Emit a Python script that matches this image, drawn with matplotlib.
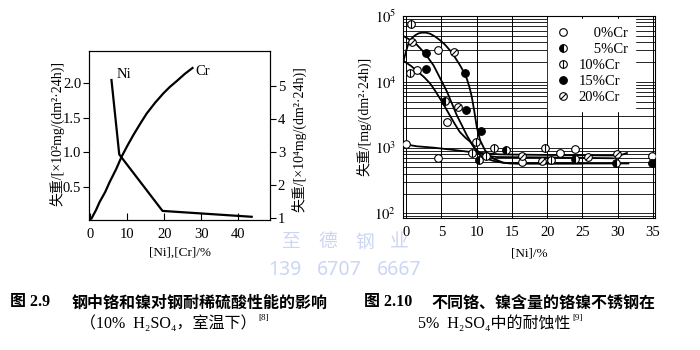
import numpy as np
import matplotlib
matplotlib.use("Agg")
import matplotlib.pyplot as plt
from matplotlib.path import Path

plt.rcParams['font.family'] = ['Liberation Serif', 'Noto Sans CJK SC']
plt.rcParams['mathtext.fontset'] = 'stix'
plt.rcParams['font.size'] = 9

SERIF_CJK = ['Liberation Serif', 'Noto Sans CJK SC']
CJK = ['Noto Sans CJK SC', 'Liberation Serif']
WM = '#ccd6f3'

# fig 2.9: weight loss vs Ni / Cr content
ni_x = [5.7, 7.8, 19.5, 43.6]
ni_y = [2.05, 0.97, 0.15, 0.065]
cr_x = [0.3, 1.5, 2.5, 4.0, 5.2, 7.0, 8.4, 10.0, 11.6, 13.5, 15.2, 17.5, 19.7, 21.5, 23.3, 25.5, 27.6]
cr_y = [1.0, 1.25, 1.5, 1.8, 2.1, 2.5, 2.86, 3.2, 3.52, 3.87, 4.17, 4.5, 4.78, 4.98, 5.15, 5.37, 5.55]

# fig 2.10: measured points per Cr level
cr0_x = [0.0, 1.6, 4.5, 4.6, 5.8, 16.4, 21.8, 24.0, 34.9]
cr0_y = [1120, 15000, 700, 31000, 2450, 610, 830, 960, 740]
cr5_x = [5.5, 10.3, 14.1, 23.9, 29.7]
cr5_y = [5100, 650, 930, 680, 575]
cr10_x = [0.7, 0.5, 9.4, 9.9, 11.3, 12.4, 19.7, 20.6]
cr10_y = [76000, 13700, 830, 1230, 760, 980, 980, 650]
cr15_x = [2.9, 2.9, 8.4, 8.5, 10.6, 34.9]
cr15_y = [27500, 15500, 13700, 3800, 1780, 575]
cr20_x = [0.9, 6.8, 7.3, 16.4, 19.2, 25.8, 29.9]
cr20_y = [40000, 28000, 4150, 760, 630, 720, 790]

# fitted curves
fa_x = [-0.4, 0.0, 0.33, 0.8, 1.28, 1.75, 2.22, 2.8, 3.41, 4.1, 4.82, 5.5, 6.24, 6.95, 7.66, 8.15,
        8.61, 9.0, 9.32, 9.65, 10.03, 10.5, 11.2, 11.8, 12.4, 13.8, 15.7, 31.5]
fa_y = [20000, 29000, 38000, 46000, 51000, 54500, 56000, 56000, 54000, 49000, 43000, 37000, 30000,
        23500, 17800, 14300, 11200, 8200, 5900, 3700, 2040, 1290, 910, 770, 680, 590, 575, 575]
fb_x = [-0.4, 0.5, 1.5, 2.7, 3.9, 4.9, 5.8, 6.5, 7.2, 7.9, 8.6, 9.2, 9.8, 10.4, 11.0, 12.0, 12.9, 20.0, 29.3]
fb_y = [50000, 44000, 37000, 27000, 17800, 11000, 7100, 4700, 3100, 2200, 1550, 1200, 955, 850, 780, 740, 720, 710, 690]
fc_x = [-0.4, 0.7, 1.74, 2.6, 3.4, 4.1, 4.8, 5.5, 6.2, 6.9, 7.6, 8.4, 9.1, 9.8, 10.5, 11.4, 12.4, 13.5, 14.7, 25.0]
fc_y = [21000, 17500, 14100, 11700, 9500, 7400, 5600, 4200, 3100, 2300, 1740, 1420, 1230, 960, 760, 680, 630, 595, 575, 575]
fd_x = [0.0, 1.5, 3.9, 6.5, 9.5, 13.3, 20.0, 29.0, 30.5, 31.3]
fd_y = [1120, 1050, 1000, 930, 850, 790, 775, 760, 775, 830]

fig = plt.figure(figsize=(7, 3.5), dpi=100)

# ---- left panel ----
ax1 = fig.add_axes([0.127, 0.371, 0.259, 0.483])
ax1.plot(ni_x, ni_y, color='black', lw=1.6)
ax1.set_xlim(-0.4, 48.6)
ax1.set_ylim(0.016, 2.47)
ax1.set_xticks([0, 10, 20, 30, 40])
ax1.set_yticks([0.5, 1.0, 1.5, 2.0])
ax1.tick_params(axis='x', direction='in', length=5, pad=6, labelsize=10.5)
ax1.tick_params(axis='y', direction='out', length=4, pad=1.5, labelsize=10.5)
ax1.set_xlabel('[Ni],[Cr]/%', fontsize=9.5)
ax1.xaxis.set_label_coords(0.5, -0.16)
ax1.set_ylabel('失重/[×10²mg/(dm²·24h)]', family=SERIF_CJK, fontsize=10)
ax1.yaxis.set_label_coords(-0.137, 0.515)
ax1.text(7.0, 2.13, 'Ni', fontsize=10.5, va='center')
ax1.text(28.5, 2.17, 'Cr', fontsize=10.5, va='center')

ax1r = ax1.twinx()
ax1r.plot(cr_x, cr_y, color='black', lw=1.6)
ax1r.set_ylim(0.95, 6.06)
ax1r.set_yticks([1, 2, 3, 4, 5])
ax1r.tick_params(axis='y', direction='out', length=4, pad=1.5, labelsize=10.5)
ax1r.set_ylabel('失重/[×10⁴mg/(dm²·24h)]', family=SERIF_CJK, fontsize=10)
ax1r.yaxis.set_label_coords(1.115, 0.48)

# ---- right panel ----
ax2 = fig.add_axes([0.576, 0.377, 0.36, 0.577])
ax2.set_yscale('log')
ax2.set_xlim(-0.4, 35.3)
ax2.set_ylim(10 ** 1.93, 1e5)
ax2.set_xticks([0, 5, 10, 15, 20, 25, 30, 35])
ax2.set_yticks([1e2, 1e3, 1e4, 1e5], labels=[r'$10^2$', r'$10^3$', r'$10^4$', r'$10^5$'])
ax2.grid(which='both', axis='y', color='black', lw=0.6)
ax2.grid(which='major', axis='x', color='black', lw=0.7)
ax2.tick_params(which='both', length=0, labelsize=10.5)
ax2.tick_params(axis='y', which='both', pad=5)
ax2.tick_params(axis='x', pad=6)
ax2.set_axisbelow(True)

for fx, fy in [(fa_x, fa_y), (fb_x, fb_y), (fc_x, fc_y), (fd_x, fd_y)]:
    ax2.plot(fx, fy, color='black', lw=1.3, zorder=3)

ms = 5.5
slash = Path([(-1, -1), (1, 1)], [Path.MOVETO, Path.LINETO])
kw = dict(ls='none', zorder=4)
h0 = ax2.plot(cr0_x, cr0_y, marker='o', ms=ms, mfc='white', mec='black', mew=0.8, **kw)[0]
h5 = ax2.plot(cr5_x, cr5_y, marker='o', ms=ms, fillstyle='left', mfc='black',
              mfcalt='white', mec='black', mew=0.8, **kw)[0]
h10a = ax2.plot(cr10_x, cr10_y, marker='o', ms=ms, mfc='white', mec='black', mew=0.8, **kw)[0]
h10b = ax2.plot(cr10_x, cr10_y, marker='|', ms=ms, mec='black', mew=0.8, **kw)[0]
h15 = ax2.plot(cr15_x, cr15_y, marker='o', ms=ms, mfc='black', mec='black', mew=0.8, **kw)[0]
h20a = ax2.plot(cr20_x, cr20_y, marker='o', ms=ms, mfc='white', mec='black', mew=0.8, **kw)[0]
h20b = ax2.plot(cr20_x, cr20_y, marker=slash, ms=ms * 0.7, mec='black', mew=0.8, **kw)[0]

leg = ax2.legend([h0, h5, (h10a, h10b), h15, (h20a, h20b)],
                 ['\u2007\u20070%Cr', '\u2007\u20075%Cr', '10%Cr', '15%Cr', '20%Cr'],
                 loc='upper left', bbox_to_anchor=(0.575, 0.985), frameon=True,
                 fancybox=False, edgecolor='white', framealpha=1, fontsize=10.5,
                 handlelength=1.0, handletextpad=0.6, labelspacing=0.2,
                 borderpad=0.5, borderaxespad=0)
leg.set_zorder(6)

ax2.set_xlabel('[Ni]/%', fontsize=9.5)
ax2.xaxis.set_label_coords(0.5, -0.144)
ax2.set_ylabel('失重/[mg/(dm²·24h)]', family=SERIF_CJK, fontsize=10)
ax2.yaxis.set_label_coords(-0.125, 0.505)

# ---- captions ----
W, H = 700.0, 350.0
def ftext(x, y, s, **k):
    return fig.text(x / W, 1 - y / H, s, **k)

renderer = fig.canvas.get_renderer()
def with_ref(x, y, s, ref, **k):
    t = ftext(x, y, s, **k)
    bb = t.get_window_extent(renderer)
    fig.text(bb.x1 / fig.dpi / fig.get_figwidth() + 0.002, 1 - (y - 6) / H, ref,
             family=SERIF_CJK, fontsize=6.5, va='center')

ftext(10, 302, '图 2.9', family=SERIF_CJK, fontsize=11.5, weight='bold', va='center')
ftext(72, 302, '钢中铬和镍对钢耐稀硫酸性能的影响', family=CJK, fontsize=11.5, weight='bold', va='center')
with_ref(80, 324, '（10%  H₂SO₄，室温下）', '[8]', family=SERIF_CJK, fontsize=11.5, va='center')

ftext(364, 302, '图 2.10', family=SERIF_CJK, fontsize=11.5, weight='bold', va='center')
ftext(431, 302, '不同铬、镍含量的铬镍不锈钢在', family=CJK, fontsize=11.5, weight='bold', va='center')
with_ref(418, 324, '5%  H₂SO₄中的耐蚀性', '[9]', family=SERIF_CJK, fontsize=11.5, va='center')

# ---- watermark ----
for cx, ch in zip([291, 328, 365, 399], '至德钢业'):
    ftext(cx, 242, ch, family=CJK, fontsize=13.5, color=WM, ha='center', va='center')
for cx, grp in zip([285, 339, 399], ['139', '6707', '6667']):
    ftext(cx, 270, grp, family=['Noto Sans'], fontsize=14, color=WM, ha='center', va='center')

fig.savefig('out.png', dpi=100)
